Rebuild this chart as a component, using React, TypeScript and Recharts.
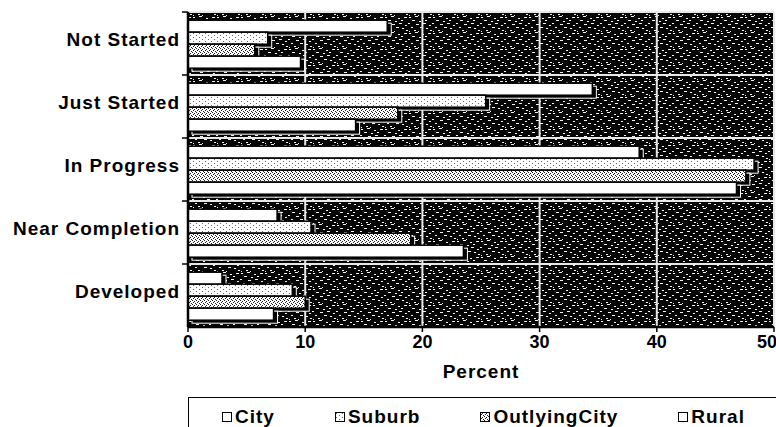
import React from 'react';
import {
  BarChart,
  Bar,
  XAxis,
  YAxis,
  CartesianGrid,
  Legend,
} from 'recharts';

const CATEGORIES = ['Not Started', 'Just Started', 'In Progress', 'Near Completion', 'Developed'];
const CITY = [17, 34.5, 38.5, 7.6, 2.9];
const SUBURB = [6.8, 25.4, 48.3, 10.5, 8.9];
const OUTLYING = [5.7, 17.9, 47.6, 19, 10];
const RURAL = [9.6, 14.3, 46.8, 23.5, 7.3];
const X_TICKS = [0, 10, 20, 30, 40, 50];

const SERIES = [
  { key: 'city', name: 'City', fill: '#ffffff' },
  { key: 'suburb', name: 'Suburb', fill: 'url(#dotsLight)' },
  { key: 'outlying', name: 'OutlyingCity', fill: 'url(#dotsDense)' },
  { key: 'rural', name: 'Rural', fill: '#ffffff' },
];

const data = CATEGORIES.map((name, i) => ({
  name,
  city: CITY[i],
  suburb: SUBURB[i],
  outlying: OUTLYING[i],
  rural: RURAL[i],
}));

const FONT = '"Liberation Sans", Arial, sans-serif';

// speckle marks for the plot background tile: [x, y, width]
const SPECKS: [number, number, number][] = [
  [1, 1, 2], [7, 0, 3], [14, 2, 2], [20, 1, 3], [4, 4, 3], [11, 5, 2],
  [17, 4, 2], [0, 7, 2], [8, 8, 3], [15, 7, 3], [21, 9, 2], [3, 11, 2],
  [12, 11, 3], [18, 12, 2], [6, 14, 2], [22, 14, 2], [10, 15, 1], [1, 15, 1],
];

function Patterns() {
  return (
    <svg width={0} height={0} style={{ position: 'absolute' }}>
      <defs>
        <pattern id="speckle" width={24} height={16} patternUnits="userSpaceOnUse">
          <rect width={24} height={16} fill="#050505" />
          {SPECKS.map(([x, y, w], i) => (
            <rect key={i} x={x} y={y} width={w} height={1} fill="#f2f2f2" />
          ))}
        </pattern>
        <pattern id="dotsLight" width={6} height={4} patternUnits="userSpaceOnUse">
          <rect width={6} height={4} fill="#fff" />
          <rect x={1} y={1} width={1} height={1} fill="#666" />
          <rect x={4} y={3} width={1} height={1} fill="#666" />
        </pattern>
        <pattern id="dotsDense" width={4} height={4} patternUnits="userSpaceOnUse">
          <rect width={4} height={4} fill="#fff" />
          <rect x={0} y={0} width={1} height={1} fill="#222" />
          <rect x={2} y={1} width={1} height={1} fill="#222" />
          <rect x={1} y={2} width={1} height={1} fill="#222" />
          <rect x={3} y={3} width={1} height={1} fill="#222" />
        </pattern>
      </defs>
    </svg>
  );
}

// bar with a hard black drop shadow edged in white
function ShadowBar(props: any) {
  const { x, y, width, height, fill } = props;
  if (!width || width <= 0) return null;
  return (
    <g>
      <rect x={x + 4} y={y + 3} width={width} height={height} fill="#000" stroke="#fff" strokeWidth={1} />
      <rect x={x} y={y} width={width} height={height} fill={fill} stroke="#000" strokeWidth={1.5} />
    </g>
  );
}

function CategoryTick(props: any) {
  const { x, y, payload } = props;
  const top = y - (payload.offset || 0);
  return (
    <g>
      <line x1={x + 2} y1={top} x2={x + 8} y2={top} stroke="#000" strokeWidth={1.5} />
      <text
        x={x}
        y={y}
        dy={2}
        textAnchor="end"
        fill="#000"
        fontFamily={FONT}
        fontWeight="bold"
        fontSize={19}
        letterSpacing={1}
      >
        {payload.value}
      </text>
    </g>
  );
}

function LegendBox() {
  return (
    <div
      style={{
        boxSizing: 'border-box',
        width: 600,
        height: 40,
        border: '1px solid #000',
        background: '#fff',
        display: 'flex',
        alignItems: 'center',
        paddingLeft: 33,
        fontFamily: FONT,
        fontWeight: 'bold',
        fontSize: 19,
        letterSpacing: 1,
      }}
    >
      {SERIES.map((s) => (
        <div key={s.key} style={{ display: 'flex', alignItems: 'center', marginRight: 60 }}>
          <svg width={10} height={10} style={{ marginRight: 3 }}>
            <rect x={0.5} y={0.5} width={9} height={9} fill={s.fill} stroke="#000" strokeWidth={1} />
          </svg>
          <span>{s.name}</span>
        </div>
      ))}
    </div>
  );
}

export default function App() {
  return (
    <div
      style={{
        position: 'absolute',
        left: 0,
        top: 0,
        width: 776,
        height: 427,
        overflow: 'hidden',
        background: '#fff',
      }}
    >
      <Patterns />
      <BarChart
        width={776}
        height={427}
        data={data}
        layout="vertical"
        margin={{ top: 12, right: 2, bottom: 0, left: 0 }}
        barCategoryGap="13%"
        barGap={0}
      >
        <CartesianGrid
          fill="url(#speckle)"
          fillOpacity={1}
          stroke="#e8e8e8"
          strokeWidth={2}
          horizontalCoordinatesGenerator={({ offset }: any) =>
            CATEGORIES.map((_, i) => offset.top + (i * offset.height) / CATEGORIES.length)
          }
        />
        <XAxis
          type="number"
          domain={[0, 50]}
          ticks={X_TICKS}
          height={60}
          tickSize={5}
          tickMargin={3}
          axisLine={{ stroke: '#000', strokeWidth: 2.5 }}
          tickLine={{ stroke: '#000', strokeWidth: 1.5 }}
          tick={{ fill: '#000', fontFamily: FONT, fontWeight: 'bold', fontSize: 18 }}
          label={{
            value: 'Percent',
            position: 'insideBottom',
            offset: 9,
            fill: '#000',
            fontFamily: FONT,
            fontWeight: 'bold',
            fontSize: 19,
            letterSpacing: 1,
          }}
        />
        <YAxis
          type="category"
          dataKey="name"
          width={188}
          tickSize={6}
          tickMargin={2}
          tickLine={false}
          axisLine={{ stroke: '#000', strokeWidth: 2.5 }}
          tick={<CategoryTick />}
          interval={0}
        />
        {SERIES.map((s) => (
          <Bar
            key={s.key}
            dataKey={s.key}
            name={s.name}
            fill={s.fill}
            shape={<ShadowBar />}
            isAnimationActive={false}
          />
        ))}
        <Legend
          verticalAlign="bottom"
          height={40}
          wrapperStyle={{ left: 188, top: 397, width: 600, height: 40 }}
          content={() => <LegendBox />}
        />
      </BarChart>
    </div>
  );
}
